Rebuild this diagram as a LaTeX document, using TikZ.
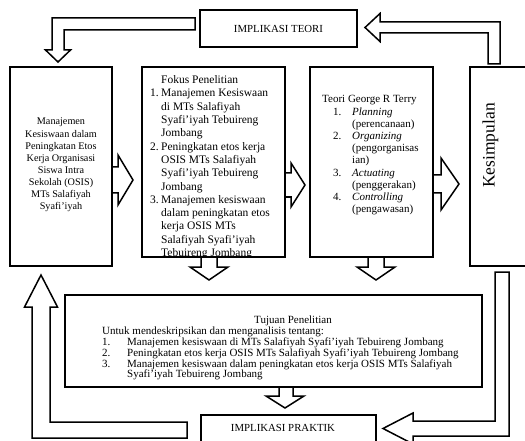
\documentclass[tikz,border=0pt]{standalone}
\usepackage{fontspec}
\setmainfont{Liberation Serif}
\newcommand{\fnumA}[1]{\makebox[11pt][l]{#1}}
\newcommand{\findA}{\hspace*{11pt}}
\newcommand{\tnumA}[1]{\hspace*{11pt}\makebox[19pt][l]{#1}}
\newcommand{\tindA}{\hspace*{30pt}}
\newcommand{\unumA}[1]{\makebox[25pt][l]{#1}}
\newcommand{\uindA}{\hspace*{25pt}}
\begin{document}
\begin{tikzpicture}[x=1pt,y=-1pt,
  box/.style={draw, line width=1.8pt, inner sep=0pt},
  barrow/.style={draw, line width=1.5pt, line join=miter, fill=white},
  txt/.style={inner sep=0pt}]
\useasboundingbox (0,0) rectangle (525,441);

% ---- block arrows ----
% IMPLIKASI TEORI -> left box
\draw[barrow] (195,18) -- (52,18) -- (52,50) -- (45.5,50) -- (58,62) -- (70.5,50) -- (64,50) -- (64,30) -- (195,30) -- cycle;
% Kesimpulan -> IMPLIKASI TEORI
\draw[barrow] (488,64) -- (488,33) -- (380,33) -- (380,41.5) -- (365,27.5) -- (380,13.5) -- (380,22) -- (500,22) -- (500,64) -- cycle;
% left -> fokus
\draw[barrow] (112,167) -- (118,167) -- (118,155) -- (133,180) -- (118,205) -- (118,193) -- (112,193) -- cycle;
% fokus -> teori
\draw[barrow] (285,173) -- (291,173) -- (291,163) -- (305,185) -- (291,207) -- (291,197) -- (285,197) -- cycle;
% teori -> kesimpulan
\draw[barrow] (433,175) -- (441,175) -- (441,158) -- (459,184) -- (441,210) -- (441,193) -- (433,193) -- cycle;
% fokus down
\draw[barrow] (201,257) -- (201,267) -- (190,267) -- (209,280) -- (228,267) -- (217,267) -- (217,257) -- cycle;
% teori down
\draw[barrow] (368,257) -- (368,267) -- (357,267) -- (376,280) -- (395,267) -- (384,267) -- (384,257) -- cycle;
% tujuan down
\draw[barrow] (279,387) -- (279,396) -- (266,396) -- (285,408) -- (304,396) -- (293,396) -- (293,387) -- cycle;
% kesimpulan -> IMPLIKASI PRAKTIK
\draw[barrow] (495,272) -- (509,272) -- (509,436) -- (413,436) -- (413,444) -- (383,428.5) -- (413,413) -- (413,421) -- (495,421) -- cycle;
% IMPLIKASI PRAKTIK -> left box
\draw[barrow] (187,422) -- (50,422) -- (50,307) -- (57.5,307) -- (41,275) -- (24.5,307) -- (32,307) -- (32,438) -- (187,438) -- cycle;

% ---- boxes ----
\node[box, minimum width=157pt, minimum height=37pt, font=\fontsize{10.8}{13}\selectfont] (impteori) at (278.5,28.5) {IMPLIKASI TEORI};
\node[box, minimum width=102pt, minimum height=199pt] (left) at (61,166.5) {};
\node[box, minimum width=143pt, minimum height=190pt] (fokus) at (213.5,162) {};
\node[box, minimum width=123pt, minimum height=190pt] (teori) at (371.5,162) {};
\node[box, minimum width=57pt, minimum height=199pt] (kes) at (498.5,166.5) {};
\node[box, minimum width=417pt, minimum height=92pt] (tujuan) at (273.5,341) {};
\node[box, minimum width=175pt, minimum height=32pt] (praktik) at (288.5,431) {};

% ---- texts ----
\node[txt, align=center, font=\fontsize{10.2}{12.1}\selectfont] (lefttext) at (61,165) {Manajemen\\Kesiswaan dalam\\Peningkatan Etos\\Kerja Organisasi\\Siswa Intra\\Sekolah (OSIS)\\MTs Salafiyah\\Syafi’iyah};

\begin{scope}
\clip (142,67) rectangle (285,257);
\node[txt, align=left, anchor=north west, font=\fontsize{11.5}{13.3}\selectfont] (fokustext) at (150,75.5) {\findA Fokus Penelitian\\
\fnumA{1.}Manajemen Kesiswaan\\
\findA di MTs Salafiyah\\
\findA Syafi’iyah Tebuireng\\
\findA Jombang\\
\fnumA{2.}Peningkatan etos kerja\\
\findA OSIS MTs Salafiyah\\
\findA Syafi’iyah Tebuireng\\
\findA Jombang\\
\fnumA{3.}Manajemen kesiswaan\\
\findA dalam peningkatan etos\\
\findA kerja OSIS MTs\\
\findA Salafiyah Syafi’iyah\\
\findA Tebuireng Jombang};
\end{scope}

\node[txt, align=left, anchor=north west, font=\fontsize{11}{12.2}\selectfont] (teoritext) at (322,95.5) {Teori George R Terry\\
\tnumA{1.}\textit{Planning}\\
\tindA(perencanaan)\\
\tnumA{2.}\textit{Organizing}\\
\tindA(pengorganisas\\
\tindA ian)\\
\tnumA{3.}\textit{Actuating}\\
\tindA(penggerakan)\\
\tnumA{4.}\textit{Controlling}\\
\tindA(pengawasan)};

\node[txt, rotate=90, font=\fontsize{17.5}{20}\selectfont] (kestext) at (490.5,145.5) {Kesimpulan};

\node[txt, anchor=base, font=\fontsize{11}{13}\selectfont] (tujuantitle) at (293,323) {Tujuan Penelitian};
\node[txt, align=left, anchor=north west, font=\fontsize{11}{10.9}\selectfont] (tujuantext) at (102,326.5) {Untuk mendeskripsikan dan menganalisis tentang:\\
\unumA{1.}Manajemen kesiswaan di MTs Salafiyah Syafi’iyah Tebuireng Jombang\\
\unumA{2.}Peningkatan etos kerja OSIS MTs Salafiyah Syafi’iyah Tebuireng Jombang\\
\unumA{3.}Manajemen kesiswaan dalam peningkatan etos kerja OSIS MTs Salafiyah\\
\uindA Syafi’iyah Tebuireng Jombang};

\node[txt, font=\fontsize{10.8}{13}\selectfont] (praktiktext) at (283,428) {IMPLIKASI PRAKTIK};
\end{tikzpicture}
\end{document}
